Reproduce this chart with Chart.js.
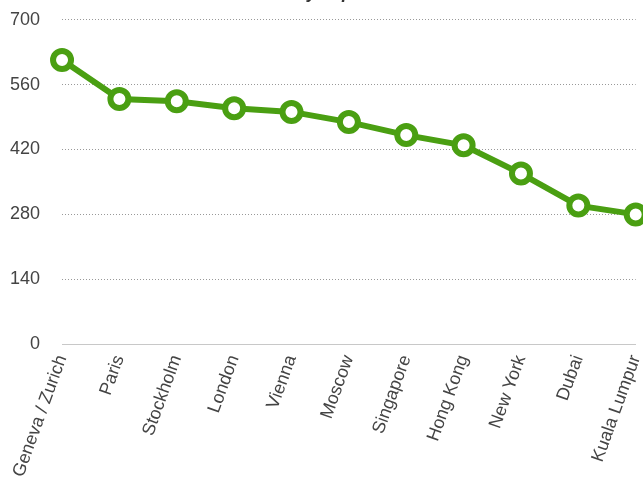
<!DOCTYPE html>
<html>
<head>
<meta charset="utf-8">
<script src="https://cdn.jsdelivr.net/npm/chart.js@4/dist/chart.umd.min.js"></script>
<style>
  html, body { margin: 0; padding: 0; background: #fff; }
  #wrap { position: relative; width: 643px; height: 477px; overflow: hidden; }
  #chart { position: absolute; left: -22px; top: -22px; }
</style>
</head>
<body>
<div id="wrap"><canvas id="chart" width="686" height="510"></canvas></div>
<script>
var cities = ['Geneva / Zurich', 'Paris', 'Stockholm', 'London', 'Vienna', 'Moscow',
  'Singapore', 'Hong Kong', 'New York', 'Dubai', 'Kuala Lumpur'];
var costs = [613, 529, 524, 509, 501, 479, 451, 429, 368, 299, 280];
var yTicks = [0, 140, 280, 420, 560, 700];

var ctx = document.getElementById('chart').getContext('2d');
var font = 'Liberation Sans, Arial, Helvetica, sans-serif';

var myChart = new Chart(ctx, {
  type: 'line',
  data: {
    labels: cities,
    datasets: [{
      label: 'Cost',
      data: costs,
      borderColor: '#4a9f12',
      backgroundColor: '#4a9f12',
      borderWidth: 6,
      tension: 0,
      pointRadius: 9,
      pointHoverRadius: 9,
      pointBorderWidth: 6,
      pointBorderColor: '#4a9f12',
      pointBackgroundColor: '#ffffff'
    }]
  },
  options: {
    responsive: false,
    animation: false,
    devicePixelRatio: 1,
    layout: { padding: { left: 10 } },
    plugins: {
      legend: { display: false },
      tooltip: { enabled: false },
      title: {
        display: true,
        text: 'Monthly expenses',
        color: '#333',
        font: { family: font, size: 18, weight: 'bold', style: 'italic' },
        padding: { top: 4, bottom: 16 }
      }
    },
    scales: {
      x: {
        grid: { display: false, drawTicks: false },
        border: { display: true, color: '#c8c8c8', width: 1 },
        ticks: {
          color: '#444',
          font: { family: font, size: 18 },
          minRotation: 70,
          maxRotation: 70,
          autoSkip: false,
          padding: 8
        }
      },
      y: {
        min: 0,
        max: 700,
        afterBuildTicks: function(axis) {
          axis.ticks = yTicks.map(function(v) { return { value: v }; });
        },
        grid: { color: '#999', lineWidth: 1, drawTicks: false },
        border: { display: false, dash: [1, 2] },
        ticks: {
          color: '#444',
          font: { family: font, size: 18 },
          padding: 22
        }
      }
    }
  }
});
</script>
</body>
</html>
